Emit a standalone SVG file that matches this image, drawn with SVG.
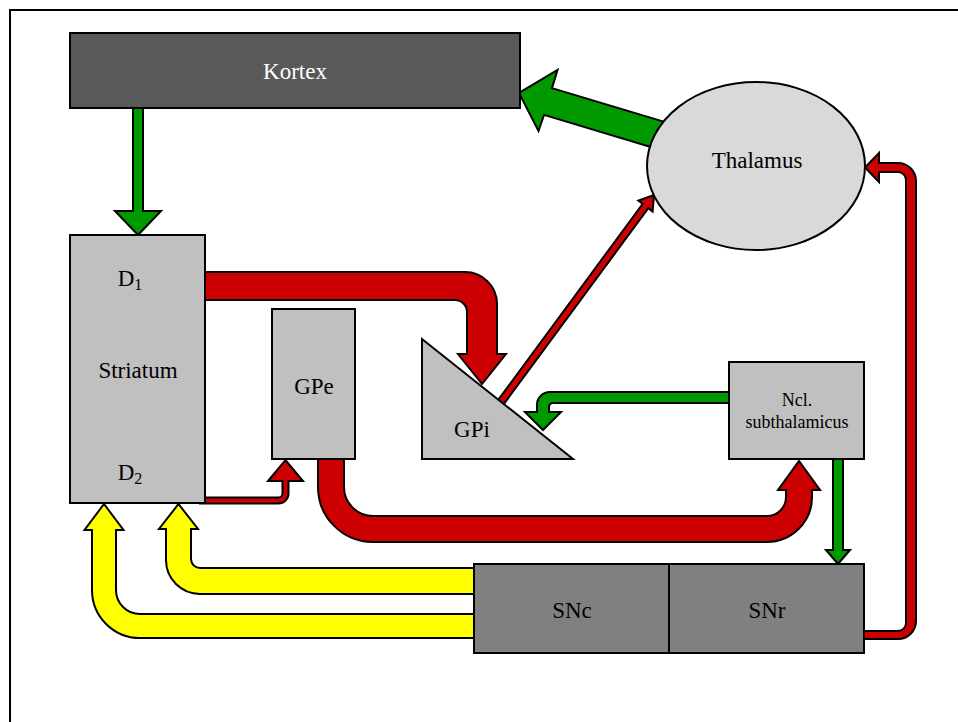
<svg xmlns="http://www.w3.org/2000/svg" width="958" height="722" viewBox="0 0 958 722">
<style>
.c{stroke:#000;stroke-width:2;stroke-linejoin:miter}
.g{fill:#009900}.r{fill:#cc0000}.y{fill:#ffff00}
.n{stroke:#000;stroke-width:2}
text{font-family:'Liberation Serif','Times New Roman',Times,serif;font-size:23px;fill:#000;text-anchor:middle}
.s{font-size:18px}
</style>
<rect x="10" y="10" width="1000" height="1000" fill="#fff" stroke="#000" stroke-width="2"/>
<g id="connectors">
<path class="c g" d="M133,106 H143 V211 H161 L138,235 L115,211 H133 Z"/>
<path class="c g" d="M667,122.6 L552,88.1 L557.5,70 L519,93 L538.5,131 L544,114.9 L659,149.4 Z"/>
<path class="c r" d="M200,272 H465 A32,32 0 0 1 497,304 V354 H506 L482,384 L458,354 H467 V312 A12,12 0 0 0 455,300 H200 Z"/>
<path class="c r" d="M200,497.5 H278.5 A4,4 0 0 0 282.5,493.5 V481 H268 L285.5,460 L303,481 H288.5 V493.5 A10,10 0 0 1 278.5,503.5 H200 Z"/>
<path class="c r" d="M318,455 V487 A55,55 0 0 0 373,542 H767 A45,45 0 0 0 812,497 V490 H820 L799,461 L778,490 H786 V497 A19,19 0 0 1 767,516 H373 A29,29 0 0 1 344,487 V455 Z"/>
<path class="c g" d="M733,392 H550 A13,13 0 0 0 537,405 V412 H525 L543,430 L561,412 H549 V407 A4,4 0 0 1 553,403 H733 Z"/>
<path class="c r" d="M498.2,399.9 L642.7,203.9 L638.4,200.6 L654,195 L652.6,211.6 L648.3,208.2 L503.8,404.1 Z"/>
<path class="c g" d="M833,455 H843 V550 H850 L838,564 L826,550 H833 Z"/>
<path class="c r" d="M860,631 H898 A8,8 0 0 0 906,623 V180 A8,8 0 0 0 898,172 H879 V182 L865,167.5 L879,153 V163 H898 A18,18 0 0 1 916,181 V621 A18,18 0 0 1 898,639 H860 Z"/>
<path class="c y" d="M166,529 V560 A34,34 0 0 0 200,594 H478 V568 H200 A9,9 0 0 1 191,559 V529 H198 L178.5,504 L159,529 Z"/>
<path class="c y" d="M92,530 V590 A48,48 0 0 0 140,638 H478 V614 H140 A24,24 0 0 1 116,590 V530 H123.5 L104,504 L84.5,530 Z"/>
</g>
<g id="kortex"><rect class="n" x="70" y="33" width="450" height="75" fill="#595959"/><text x="295" y="79" style="fill:#fff">Kortex</text></g>
<g id="thalamus"><ellipse class="n" cx="756" cy="166" rx="109" ry="84" fill="#d9d9d9"/><text x="757" y="168">Thalamus</text></g>
<g id="striatum"><rect class="n" x="70" y="235" width="135" height="268" fill="#c0c0c0"/>
<text x="130" y="286">D<tspan font-size="16" dy="4">1</tspan></text>
<text x="138" y="378">Striatum</text>
<text x="130" y="480">D<tspan font-size="16" dy="4">2</tspan></text></g>
<g id="gpe"><rect class="n" x="272" y="309" width="83" height="150" fill="#c0c0c0"/><text x="314" y="394">GPe</text></g>
<g id="gpi"><polygon class="n" points="422,339 422,459 573,459" fill="#c0c0c0"/><text x="472" y="437">GPi</text></g>
<g id="stn"><rect class="n" x="729" y="362" width="135" height="97" fill="#c0c0c0"/><text class="s" x="797" y="406">Ncl.</text><text class="s" x="797" y="428">subthalamicus</text></g>
<g id="snc"><rect class="n" x="474" y="564" width="195" height="89" fill="#808080"/><text x="572" y="618">SNc</text></g>
<g id="snr"><rect class="n" x="669" y="564" width="195" height="89" fill="#808080"/><text x="767" y="618">SNr</text></g>
</svg>
